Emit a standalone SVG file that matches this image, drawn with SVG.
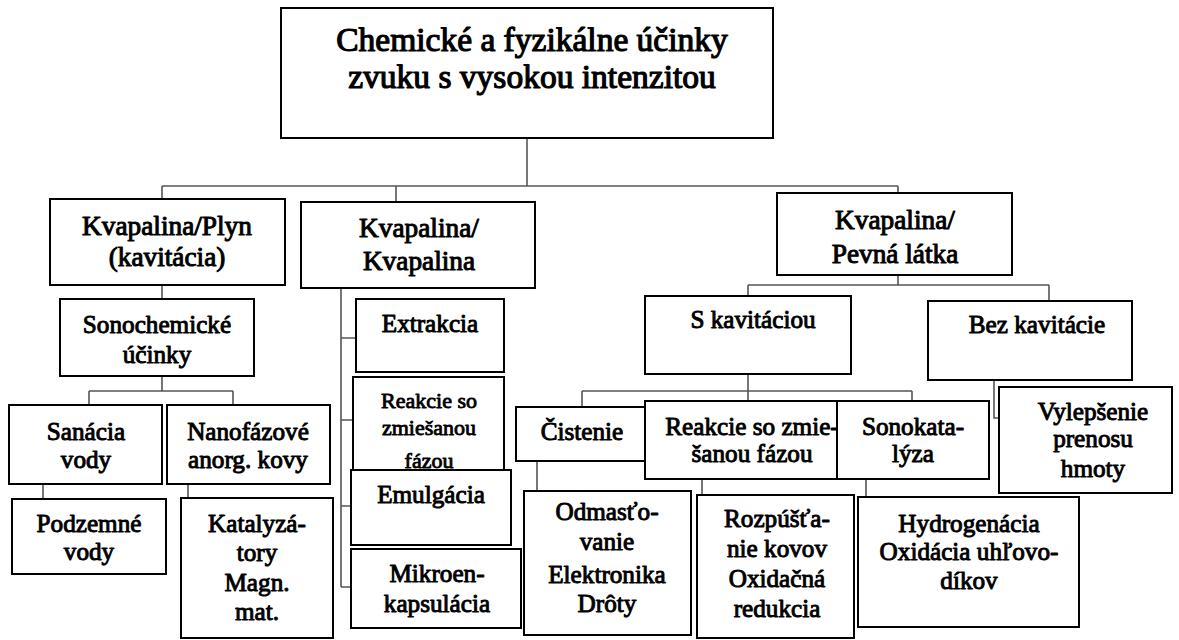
<svg xmlns="http://www.w3.org/2000/svg" width="1179" height="640" viewBox="0 0 1179 640">
<style>
.box{fill:#fff;stroke:#000;stroke-width:2}
.c{fill:none;stroke:#555;stroke-width:1.6}
text{font-family:"Liberation Serif","Times New Roman",serif;font-weight:normal;fill:#000;stroke:#000;stroke-linejoin:round;text-anchor:middle}
.t{font-size:33.5px;stroke-width:1.2}
.l2{font-size:27.3px;stroke-width:1}
.l3{font-size:25.2px;stroke-width:0.95}
.s{font-size:22px;stroke-width:0.85}
</style>
<rect width="1179" height="640" fill="#fff"/>
<g id="connectors">
<path class="c" d="M527 138V186M162 186H898M162 186V199M396 186V202M898 186V193"/>
<path class="c" d="M162 285V299M162 376V391M89 391H233M89 391V405M233 391V405M43 484V499M188 484V498"/>
<path class="c" d="M341 288V587M341 338H356M341 420H353M341 506H351M341 587H351"/>
<path class="c" d="M898 275V285M748 285H1049M748 285V296M1049 285V301"/>
<path class="c" d="M748 374V401M582 391H912M582 391V407M912 391V401"/>
<path class="c" d="M537 461V491M702 479V495M866 479V497M994 380V418H999"/>
</g>
<g id="title">
<rect class="box" x="281" y="8" width="492" height="130"/>
<text class="t" x="532" y="51">Chemické a fyzikálne účinky</text>
<text class="t" x="532" y="88">zvuku s vysokou intenzitou</text>
</g>
<g id="kvapalina-plyn">
<rect class="box" x="50" y="199" width="235" height="86"/>
<text class="l2" x="167" y="235">Kvapalina/Plyn</text>
<text class="l2" x="167" y="266">(kavitácia)</text>
</g>
<g id="kvapalina-kvapalina">
<rect class="box" x="301" y="202" width="234" height="86"/>
<text class="l2" x="419" y="237">Kvapalina/</text>
<text class="l2" x="419" y="270">Kvapalina</text>
</g>
<g id="kvapalina-pevna">
<rect class="box" x="777" y="193" width="235" height="82"/>
<text class="l2" x="895" y="229">Kvapalina/</text>
<text class="l2" x="895" y="263">Pevná látka</text>
</g>
<g id="sonochemicke">
<rect class="box" x="60" y="299" width="194" height="77"/>
<text class="l3" x="157" y="333">Sonochemické</text>
<text class="l3" x="157" y="363">účinky</text>
</g>
<g id="sanacia">
<rect class="box" x="9" y="405" width="153" height="79"/>
<text class="l3" x="86" y="440">Sanácia</text>
<text class="l3" x="86" y="468">vody</text>
</g>
<g id="nanofazove">
<rect class="box" x="167" y="405" width="163" height="79"/>
<text class="l3" x="248" y="440">Nanofázové</text>
<text class="l3" x="248" y="468">anorg. kovy</text>
</g>
<g id="podzemne">
<rect class="box" x="12" y="499" width="154" height="75"/>
<text class="l3" x="89" y="532">Podzemné</text>
<text class="l3" x="89" y="560">vody</text>
</g>
<g id="katalyzatory">
<rect class="box" x="181" y="498" width="152" height="140"/>
<text class="l3" x="257" y="532">Katalyzá-</text>
<text class="l3" x="257" y="561">tory</text>
<text class="l3" x="257" y="591">Magn.</text>
<text class="l3" x="257" y="620">mat.</text>
</g>
<g id="extrakcia">
<rect class="box" x="356" y="299" width="148" height="73"/>
<text class="l3" x="430" y="332">Extrakcia</text>
</g>
<g id="reakcie-l">
<rect class="box" x="353" y="377" width="151" height="93"/>
<text class="s" x="429" y="408">Reakcie so</text>
<text class="s" x="429" y="435">zmiešanou</text>
<text class="s" x="429" y="468">fázou</text>
</g>
<g id="emulgacia">
<rect class="box" x="351" y="470" width="160" height="75"/>
<text class="l3" x="431" y="503">Emulgácia</text>
</g>
<g id="mikroenkapsulacia">
<rect class="box" x="351" y="549" width="170" height="79"/>
<text class="l3" x="437" y="582">Mikroen-</text>
<text class="l3" x="437" y="612">kapsulácia</text>
</g>
<g id="s-kavitaciou">
<rect class="box" x="645" y="296" width="206" height="78"/>
<text class="l3" x="753" y="328">S kavitáciou</text>
</g>
<g id="bez-kavitacie">
<rect class="box" x="928" y="301" width="204" height="79"/>
<text class="l3" x="1037" y="333">Bez kavitácie</text>
</g>
<g id="cistenie">
<rect class="box" x="516" y="407" width="130" height="54"/>
<text class="l3" x="582" y="440">Čistenie</text>
</g>
<g id="reakcie-r">
<rect class="box" x="645" y="401" width="192" height="78"/>
<text class="l3" x="752" y="435">Reakcie so zmie-</text>
<text class="l3" x="752" y="462">šanou fázou</text>
</g>
<g id="sonokatalyza">
<rect class="box" x="837" y="401" width="152" height="78"/>
<text class="l3" x="913" y="435">Sonokata-</text>
<text class="l3" x="913" y="462">lýza</text>
</g>
<g id="vylepsenie">
<rect class="box" x="999" y="387" width="173" height="106"/>
<text class="l3" x="1093" y="420">Vylepšenie</text>
<text class="l3" x="1093" y="447">prenosu</text>
<text class="l3" x="1093" y="477">hmoty</text>
</g>
<g id="odmastovanie">
<rect class="box" x="524" y="491" width="167" height="144"/>
<text class="l3" x="607" y="520">Odmasťo-</text>
<text class="l3" x="607" y="550">vanie</text>
<text class="l3" x="607" y="583">Elektronika</text>
<text class="l3" x="607" y="612">Drôty</text>
</g>
<g id="rozpustanie">
<rect class="box" x="697" y="495" width="157" height="143"/>
<text class="l3" x="777" y="527">Rozpúšťa-</text>
<text class="l3" x="777" y="557">nie kovov</text>
<text class="l3" x="777" y="587">Oxidačná</text>
<text class="l3" x="777" y="617">redukcia</text>
</g>
<g id="hydrogenacia">
<rect class="box" x="858" y="497" width="221" height="130"/>
<text class="l3" x="969" y="532">Hydrogenácia</text>
<text class="l3" x="969" y="560">Oxidácia uhľovo-</text>
<text class="l3" x="969" y="589">díkov</text>
</g>
</svg>
